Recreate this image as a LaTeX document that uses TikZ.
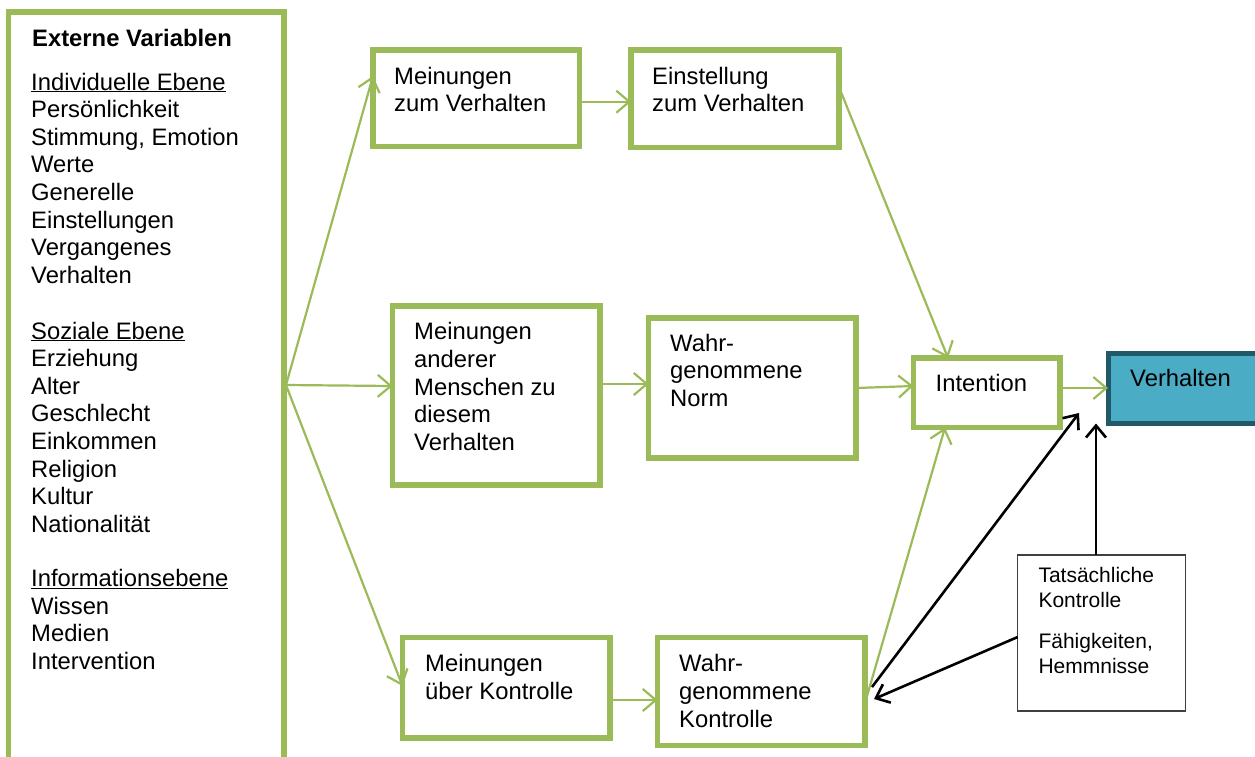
\documentclass[tikz,border=0pt]{standalone}
\usepackage{fontspec}
\setmainfont{Liberation Sans}
\usetikzlibrary{arrows.meta,fit}
\definecolor{gr}{HTML}{9BBB59}
\definecolor{tealfill}{HTML}{4BACC6}
\definecolor{tealdark}{HTML}{215968}
\definecolor{tatgray}{HTML}{404040}
\tikzset{
  gbox/.style={draw=gr, line width=5.5pt, inner sep=0pt, outer sep=0pt},
  garr/.style={draw=gr, line width=2.2pt, -{Straight Barb[length=13pt,width=22pt]}},
  barr/.style={draw=black, line width=2.6pt, -{Straight Barb[length=12pt,width=20pt]}},
  txt/.style={anchor=base west, inner sep=0pt, align=left, font=\fontsize{23.8}{27.6}\selectfont},
  stxt/.style={anchor=base west, inner sep=0pt, align=left, font=\fontsize{21}{25}\selectfont}
}
\begin{document}
\begin{tikzpicture}[x=1pt,y=-1pt]
\useasboundingbox (0,0) rectangle (1255,756);
\clip (0,0) rectangle (1255,756);
% boxes
\node[gbox, fit={(8.5,12) (284,800)}] (ext) {};
\node[gbox, fit={(373,50) (579.5,146.5)}] (b1) {};
\node[gbox, fit={(631,50) (839,147.5)}] (b2) {};
\node[gbox, fit={(392.5,306) (600,485)}] (b3) {};
\node[gbox, fit={(648.5,318) (856,458)}] (b4) {};
\node[gbox, fit={(913.3,358) (1060,427.5)}] (int) {};
\node[draw=tealdark, fill=tealfill, line width=5pt, inner sep=0pt, outer sep=0pt, fit={(1108,353) (1260,423.5)}] (vh) {};
\node[gbox, fit={(402.5,637.5) (610,738)}] (b5) {};
\node[gbox, fit={(657.5,637.5) (865,745.5)}] (b6) {};
\node[draw=tatgray, line width=1.3pt, inner sep=0pt, outer sep=0pt, fit={(1017.7,555) (1185.7,711)}] (tat) {};
% texts (anchor = baseline of the last line)
\node[txt, font=\bfseries\fontsize{23.8}{27.6}\selectfont] (tExt) at (32,46) {Externe Variablen};
\node[txt] (tInd) at (31,283.2) {\underline{Individuelle Ebene}\\Persönlichkeit\\Stimmung, Emotion\\Werte\\Generelle\\Einstellungen\\Vergangenes\\Verhalten};
\node[txt] (tSoz) at (31,532.2) {\underline{Soziale Ebene}\\Erziehung\\Alter\\Geschlecht\\Einkommen\\Religion\\Kultur\\Nationalität};
\node[txt] (tInf) at (31,669.5) {\underline{Informationsebene}\\Wissen\\Medien\\Intervention};
\node[txt] (t1) at (394,111.7) {Meinungen\\zum Verhalten};
\node[txt] (t2) at (652,111.7) {Einstellung\\zum Verhalten};
\node[txt] (t3) at (414,450.2) {Meinungen\\anderer\\Menschen zu\\diesem\\Verhalten};
\node[txt] (t4) at (670,406.2) {Wahr-\\genommene\\Norm};
\node[txt] (tInt) at (935.5,391.7) {Intention};
\node[txt] (tVh) at (1130,386) {Verhalten};
\node[txt] (t5) at (425,699) {Meinungen\\über Kontrolle};
\node[txt] (t6) at (679,727) {Wahr-\\genommene\\Kontrolle};
\node[stxt] (tTat) at (1038.3,673.3) {Tatsächliche\\Kontrolle\\[15.7pt]Fähigkeiten,\\Hemmnisse};
% connectors
\coordinate (fan) at (286,385);
\draw[garr] (fan) -- (b1.west |- 0,76);
\draw[garr] (fan) -- (b3.west |- 0,386);
\draw[garr] (fan) -- (b5.west |- 0,686);
\draw[garr] (b1.east |- 0,101.7) -- (b2.west |- 0,101.7);
\draw[garr] (b3.east |- 0,384) -- (b4.west |- 0,384);
\draw[garr] (b5.east |- 0,700) -- (b6.west |- 0,700);
\draw[garr] (b2.east |- 0,87) -- (int.north -| 948,0);
\draw[garr] (b4.east |- 0,388) -- (int.west |- 0,386);
\draw[garr] (b6.east |- 0,703) -- (int.south -| 945,0);
\draw[garr] (int.east |- 0,388) -- (vh.west |- 0,388);
\coordinate (bx) at (1079,413);
\draw[barr] ([xshift=7pt]b6.east |- 0,687) -- (bx);
\draw[barr] (tat.north -| 1096,0) -- (vh.south -| 1096,0);
\draw[barr] (tat.west |- 0,637) -- ([xshift=9pt]b6.east |- 0,699);
\end{tikzpicture}
\end{document}
